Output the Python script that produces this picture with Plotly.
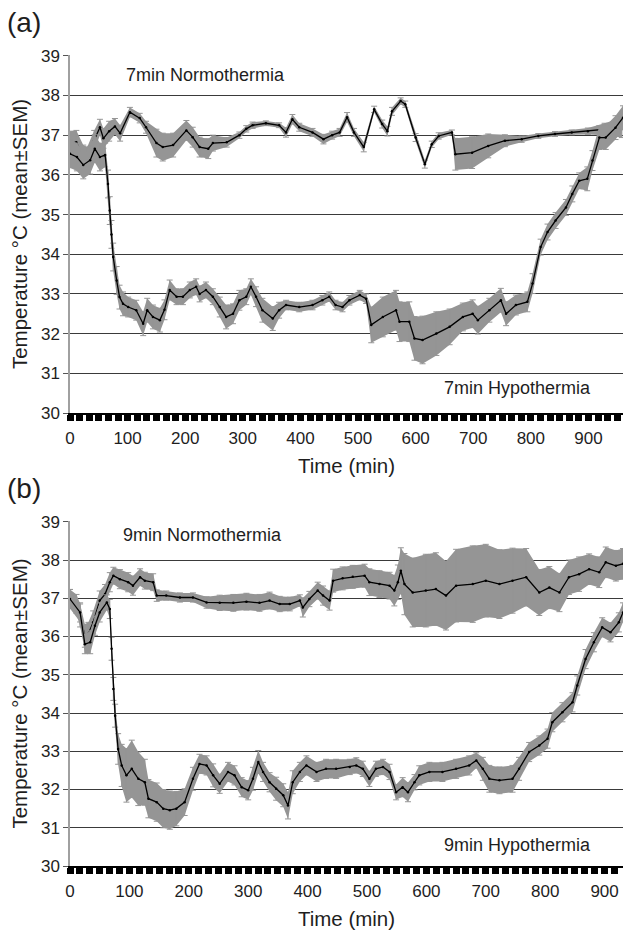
import plotly.graph_objects as go
from plotly.subplots import make_subplots

# ---------------- Panel (a): 7 min ----------------
A_NORM_T = [0, 11, 23, 30, 42, 52, 58, 68, 78, 87,
            104, 121, 132, 150, 161, 179, 202, 213, 225, 240,
            248, 272, 294, 306, 317, 340, 363, 375, 386, 398,
            421, 440, 455, 468, 481, 493, 510, 528, 542, 551,
            559, 574, 582, 600, 616, 628, 640, 663, 669, 698,
            726, 755, 784, 813, 842, 871, 899, 928, 958]
A_NORM_MEAN = [36.80, 36.82, 36.45, 36.40, 36.87, 37.20, 36.92, 37.10, 37.22, 37.05,
               37.58, 37.43, 37.20, 36.80, 36.70, 36.75, 37.12, 36.95, 36.70, 36.66,
               36.80, 36.82, 37.00, 37.16, 37.25, 37.30, 37.25, 37.07, 37.40, 37.20,
               37.07, 36.90, 37.00, 37.07, 37.45, 37.07, 36.70, 37.65, 37.28, 37.10,
               37.60, 37.86, 37.78, 36.94, 36.27, 36.77, 36.98, 37.07, 36.52, 36.56,
               36.73, 36.86, 36.90, 36.98, 37.03, 37.07, 37.10, 37.15, 37.19]
A_NORM_SEM = [0.30, 0.30, 0.30, 0.30, 0.25, 0.20, 0.25, 0.25, 0.20, 0.20,
              0.12, 0.12, 0.15, 0.35, 0.35, 0.30, 0.25, 0.25, 0.25, 0.25,
              0.20, 0.12, 0.08, 0.08, 0.08, 0.06, 0.06, 0.12, 0.12, 0.10,
              0.10, 0.12, 0.10, 0.10, 0.12, 0.10, 0.12, 0.08, 0.10, 0.12,
              0.10, 0.08, 0.08, 0.10, 0.10, 0.08, 0.08, 0.06, 0.40, 0.40,
              0.30, 0.15, 0.08, 0.06, 0.06, 0.06, 0.08, 0.15, 0.25]

A_HYPO_T = [0, 12, 23, 35, 43, 52, 61, 66, 69, 72,
            75, 81, 86, 92, 101, 115, 127, 134, 144, 156,
            164, 173, 185, 196, 208, 219, 225, 236, 248, 260,
            271, 283, 294, 306, 314, 323, 334, 352, 363, 375,
            398, 421, 438, 450, 461, 473, 485, 503, 514, 523,
            543, 566, 572, 589, 598, 612, 636, 659, 682, 699,
            708, 728, 748, 757, 774, 794, 803, 817, 829, 843,
            861, 872, 884, 898, 907, 919, 930, 947, 960]
A_HYPO_MEAN = [36.53, 36.45, 36.25, 36.37, 36.66, 36.45, 36.50, 35.77, 35.10, 34.50,
               33.93, 33.34, 32.92, 32.75, 32.67, 32.59, 32.25, 32.59, 32.42, 32.34,
               32.60, 33.10, 32.93, 32.93, 33.10, 33.18, 33.00, 33.10, 32.93, 32.67,
               32.42, 32.50, 32.84, 32.93, 33.18, 32.93, 32.59, 32.38, 32.59, 32.72,
               32.67, 32.72, 32.84, 32.93, 32.72, 32.67, 32.84, 32.97, 32.88, 32.22,
               32.42, 32.59, 32.30, 32.30, 31.88, 31.84, 32.00, 32.17, 32.42, 32.50,
               32.34, 32.59, 32.84, 32.50, 32.72, 32.80, 33.26, 34.18, 34.56, 34.85,
               35.18, 35.52, 35.85, 35.90, 36.36, 36.94, 36.94, 37.19, 37.44]
A_HYPO_SEM = [0.35, 0.35, 0.35, 0.35, 0.35, 0.35, 0.30, 0.35, 0.35, 0.35,
              0.35, 0.35, 0.30, 0.30, 0.25, 0.25, 0.30, 0.30, 0.30, 0.30,
              0.25, 0.25, 0.20, 0.20, 0.20, 0.20, 0.20, 0.20, 0.20, 0.25,
              0.30, 0.25, 0.25, 0.20, 0.20, 0.25, 0.30, 0.30, 0.20, 0.12,
              0.12, 0.12, 0.12, 0.12, 0.12, 0.12, 0.12, 0.12, 0.12, 0.45,
              0.50, 0.50, 0.50, 0.50, 0.55, 0.60, 0.55, 0.45, 0.35, 0.35,
              0.35, 0.30, 0.30, 0.30, 0.25, 0.25, 0.25, 0.20, 0.20, 0.20,
              0.20, 0.20, 0.20, 0.30, 0.25, 0.30, 0.30, 0.30, 0.30]

# ---------------- Panel (b): 9 min ----------------
B_NORM_T = [0, 11, 17, 25, 31, 39, 50, 59, 67, 73,
            84, 98, 106, 118, 126, 140, 146, 162, 185, 207,
            230, 252, 275, 297, 319, 336, 353, 370, 387, 392,
            403, 417, 426, 437, 443, 459, 476, 496, 504, 521,
            538, 546, 552, 557, 563, 577, 599, 616, 633, 650,
            678, 700, 723, 745, 768, 790, 807, 824, 840, 857,
            874, 891, 902, 919, 931]
B_NORM_MEAN = [36.98, 36.85, 36.55, 36.02, 36.07, 36.37, 36.94, 37.11, 37.42, 37.59,
               37.50, 37.42, 37.33, 37.55, 37.46, 37.42, 37.07, 37.07, 37.02, 37.02,
               36.89, 36.88, 36.88, 36.91, 36.88, 36.94, 36.85, 36.85, 36.94, 36.76,
               36.98, 37.20, 37.07, 36.94, 37.46, 37.52, 37.56, 37.59, 37.42, 37.37,
               37.33, 37.20, 37.42, 37.72, 37.37, 37.15, 37.20, 37.24, 37.07, 37.33,
               37.37, 37.46, 37.37, 37.46, 37.55, 37.15, 37.28, 37.15, 37.55, 37.63,
               37.76, 37.68, 37.94, 37.85, 37.90]
B_NORM_SEM = [0.25, 0.25, 0.30, 0.30, 0.30, 0.30, 0.25, 0.25, 0.25, 0.22,
              0.25, 0.25, 0.25, 0.22, 0.22, 0.22, 0.15, 0.12, 0.12, 0.12,
              0.15, 0.20, 0.22, 0.22, 0.22, 0.22, 0.20, 0.18, 0.15, 0.25,
              0.20, 0.22, 0.25, 0.25, 0.30, 0.30, 0.30, 0.30, 0.35, 0.35,
              0.35, 0.40, 0.45, 0.60, 0.80, 0.90, 0.95, 0.95, 0.90, 0.95,
              1.00, 0.95, 0.90, 0.85, 0.75, 0.60, 0.55, 0.50, 0.45, 0.45,
              0.40, 0.40, 0.40, 0.40, 0.40]

B_HYPO_T = [0, 17, 25, 34, 42, 50, 62, 67, 70, 73,
            76, 81, 87, 95, 104, 115, 126, 132, 146, 157,
            168, 179, 193, 207, 218, 230, 241, 252, 266, 277,
            289, 300, 308, 317, 325, 336, 347, 359, 367, 375,
            387, 398, 415, 431, 448, 471, 482, 493, 504, 515,
            527, 538, 549, 560, 569, 580, 588, 605, 627, 650,
            672, 684, 695, 706, 723, 745, 756, 773, 790, 804,
            812, 829, 846, 854, 868, 882, 896, 910, 924, 931]
B_HYPO_MEAN = [36.98, 36.63, 35.80, 35.85, 36.28, 36.63, 36.89, 36.72, 35.68, 34.63,
               33.93, 33.06, 32.63, 32.37, 32.54, 32.28, 32.19, 31.76, 31.67, 31.50,
               31.46, 31.50, 31.67, 32.28, 32.67, 32.63, 32.37, 32.15, 32.46, 32.37,
               32.06, 31.98, 32.28, 32.72, 32.46, 32.19, 32.02, 31.85, 31.58, 32.19,
               32.46, 32.63, 32.46, 32.54, 32.54, 32.59, 32.63, 32.54, 32.28, 32.54,
               32.59, 32.46, 31.93, 32.06, 31.93, 32.19, 32.37, 32.46, 32.46, 32.54,
               32.63, 32.76, 32.54, 32.28, 32.24, 32.28, 32.54, 32.98, 33.15, 33.33,
               33.76, 34.02, 34.28, 34.72, 35.41, 35.85, 36.24, 36.11, 36.37, 36.63]
B_HYPO_SEM = [0.25, 0.25, 0.25, 0.30, 0.25, 0.25, 0.20, 0.25, 0.30, 0.30,
              0.30, 0.40, 0.55, 0.70, 0.75, 0.70, 0.60, 0.50, 0.50, 0.50,
              0.50, 0.45, 0.35, 0.30, 0.25, 0.25, 0.30, 0.25, 0.25, 0.25,
              0.25, 0.25, 0.30, 0.30, 0.25, 0.25, 0.30, 0.30, 0.35, 0.30,
              0.25, 0.25, 0.25, 0.25, 0.25, 0.20, 0.20, 0.20, 0.20, 0.20,
              0.20, 0.20, 0.20, 0.25, 0.25, 0.20, 0.25, 0.25, 0.25, 0.25,
              0.25, 0.20, 0.30, 0.35, 0.35, 0.35, 0.30, 0.25, 0.25, 0.25,
              0.25, 0.25, 0.25, 0.25, 0.25, 0.25, 0.25, 0.25, 0.25, 0.25]

X_TICKS = [0, 100, 200, 300, 400, 500, 600, 700, 800, 900]
Y_TICKS = [30, 31, 32, 33, 34, 35, 36, 37, 38, 39]

GRAY = "#959595"
TXT = "#1e1e1e"
FONT = "Liberation Sans, Arial, sans-serif"

fig = make_subplots(rows=2, cols=1)


def add_series(row, t, mean, sem):
    upper = [m + s for m, s in zip(mean, sem)]
    lower = [m - s for m, s in zip(mean, sem)]
    fig.add_trace(go.Scatter(x=t + t[::-1], y=upper + lower[::-1], fill="toself",
                             fillcolor=GRAY, line=dict(width=0), mode="lines",
                             hoverinfo="skip", showlegend=False), row=row, col=1)
    fig.add_trace(go.Scatter(x=t, y=mean, mode="markers", marker=dict(size=1, color=GRAY),
                             error_y=dict(type="data", array=sem, visible=True, color=GRAY,
                                          thickness=1, width=3),
                             showlegend=False), row=row, col=1)
    fig.add_trace(go.Scatter(x=t, y=mean, mode="lines+markers",
                             line=dict(color="black", width=1.3),
                             marker=dict(color="black", size=2.5),
                             showlegend=False), row=row, col=1)


add_series(1, A_NORM_T, A_NORM_MEAN, A_NORM_SEM)
add_series(1, A_HYPO_T, A_HYPO_MEAN, A_HYPO_SEM)
add_series(2, B_NORM_T, B_NORM_MEAN, B_NORM_SEM)
add_series(2, B_HYPO_T, B_HYPO_MEAN, B_HYPO_SEM)

# plot region in pixels: x 70..623, y 55..866
L, R, T, B = 70, 2, 55, 67
W, H = 625, 933
PW, PH = W - L - R, H - T - B


def py(ypx):
    return (H - B - ypx) / PH


def px(xpx):
    return (xpx - L) / PW


dom_top = [py(413), 1.0]
dom_bot = [0.0, py(521)]

xcommon = dict(tickvals=X_TICKS, ticks="outside", ticklen=6, tickwidth=7, tickcolor="black",
               minor=dict(dtick=100 / 6, ticks="outside", ticklen=6, tickwidth=7,
                          tickcolor="black", showgrid=False),
               showline=True, linecolor="black", linewidth=2, showgrid=False, zeroline=False,
               tickfont=dict(size=17, color=TXT, family=FONT), ticklabelstandoff=3,
               title=dict(text="Time (min)", font=dict(size=20.5, color=TXT, family=FONT),
                          standoff=11))
ycommon = dict(tickvals=Y_TICKS, range=[30, 39.02], ticks="outside", ticklen=5, tickwidth=1,
               tickcolor="#555", showline=True, linecolor="#a0a0a0", linewidth=1.5,
               showgrid=True, gridcolor="#3a3a3a", gridwidth=1.3, zeroline=False,
               tickfont=dict(size=17, color=TXT, family=FONT),
               title=dict(text="Temperature °C (mean±SEM)",
                          font=dict(size=20.5, color=TXT, family=FONT), standoff=8))

fig.update_xaxes(**xcommon, range=[0, 960], row=1, col=1)
fig.update_xaxes(**xcommon, range=[0, 931], row=2, col=1)
fig.update_yaxes(**ycommon, domain=dom_top, row=1, col=1)
fig.update_yaxes(**ycommon, domain=dom_bot, row=2, col=1)

ann_font = dict(size=18, color=TXT, family=FONT)


def label(text, xpx, ypx, font):
    return dict(text=text, x=px(xpx), y=py(ypx), xref="paper", yref="paper",
                xanchor="center", yanchor="middle", showarrow=False, font=font)


big = dict(size=28, color=TXT, family=FONT)
annotations = [
    label("(a)", 24, 22, big),
    label("(b)", 24, 488, big),
    label("7min Normothermia", 205, 75, ann_font),
    label("7min Hypothermia", 517, 388, ann_font),
    label("9min Normothermia", 202, 535, ann_font),
    label("9min Hypothermia", 517, 845, ann_font),
]

fig.update_layout(width=W, height=H,
                  margin=dict(l=L, r=R, t=T, b=B, autoexpand=False),
                  plot_bgcolor="white", paper_bgcolor="white",
                  annotations=annotations, showlegend=False,
                  font=dict(family=FONT))

fig.write_html("out.html", config={"displayModeBar": False},
               post_script="document.body.style.margin='0';document.body.style.padding='0';"
                           "document.body.style.overflow='hidden';")
